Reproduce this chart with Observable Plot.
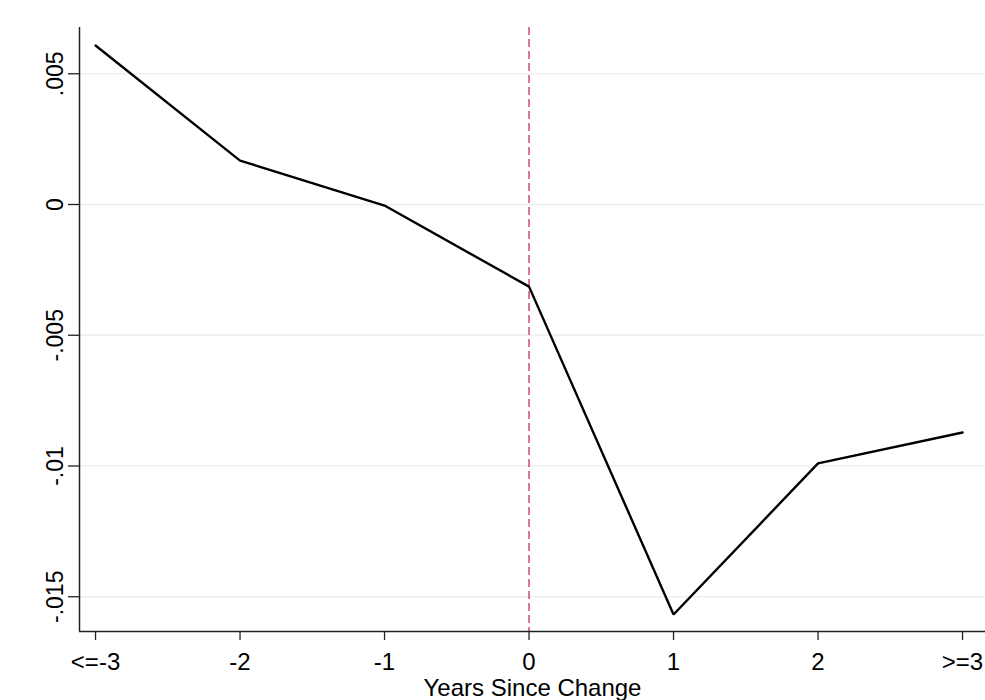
<!DOCTYPE html>
<html>
<head>
<meta charset="utf-8">
<script src="https://cdn.jsdelivr.net/npm/d3@7"></script>
<script src="https://cdn.jsdelivr.net/npm/@observablehq/plot@0.6"></script>
<style>
  html, body { margin: 0; padding: 0; background: #fff; }
  #chart { width: 985px; height: 700px; overflow: hidden; }
</style>
</head>
<body>
<div id="chart"></div>
<script>
// Event-time categories and estimated coefficients
const xValues = [-3, -2, -1, 0, 1, 2, 3];
const xTickLabels = ["<=-3", "-2", "-1", "0", "1", "2", ">=3"];
const coefficients = [0.00608, 0.00168, -0.00004, -0.00314, -0.01568, -0.0099, -0.00872];

const yTicks = [0.005, 0, -0.005, -0.01, -0.015];
const yTickLabels = [".005", "0", "-.005", "-.01", "-.015"];

const eventYear = [0];
const xTitle = "Years Since Change";

const xDomain = [-3.111, 3.159];
const yDomain = [-0.016329, 0.006769];

const data = xValues.map((x, i) => ({x, y: coefficients[i]}));
const xLabelMap = new Map(xValues.map((v, i) => [v, xTickLabels[i]]));
const yLabelMap = new Map(yTicks.map((v, i) => [v, yTickLabels[i]]));

const font = "'Liberation Sans', Arial, Helvetica, sans-serif";

const chart = Plot.plot({
  width: 985,
  height: 700,
  marginLeft: 79,
  marginRight: 0,
  marginTop: 27,
  marginBottom: 69,
  style: {fontFamily: font, color: "#000", background: "#fff"},
  x: {type: "linear", domain: xDomain},
  y: {domain: yDomain},
  marks: [
    Plot.ruleY(yTicks, {stroke: "#efefef", strokeWidth: 1.5}),
    Plot.ruleX(eventYear, {stroke: "#c0334d", strokeWidth: 1.3, strokeDasharray: "8,4"}),
    Plot.line(data, {x: "x", y: "y", stroke: "#000", strokeWidth: 2.4, strokeLinejoin: "miter"}),
    Plot.ruleX([xDomain[0]], {stroke: "#222", strokeWidth: 1.5}),
    Plot.ruleY([yDomain[0]], {stroke: "#222", strokeWidth: 1.5}),
    Plot.axisX({
      ticks: xValues,
      tickFormat: d => xLabelMap.get(d),
      tickSize: 9,
      tickPadding: 12,
      fontSize: 24,
      stroke: "#222",
      strokeWidth: 1.3,
      fill: "#000",
      label: null
    }),
    Plot.axisY({
      ticks: yTicks,
      tickFormat: d => yLabelMap.get(d),
      tickSize: 11,
      tickPadding: 6,
      tickRotate: -90,
      textAnchor: "middle",
      lineAnchor: "bottom",
      fontSize: 23,
      stroke: "#222",
      strokeWidth: 1.3,
      fill: "#000",
      label: null
    }),
    Plot.text([xTitle], {
      frameAnchor: "bottom",
      dy: 64,
      lineAnchor: "bottom",
      text: d => d,
      fontSize: 24,
      fill: "#000"
    })
  ]
});

document.getElementById("chart").appendChild(chart);
</script>
</body>
</html>
